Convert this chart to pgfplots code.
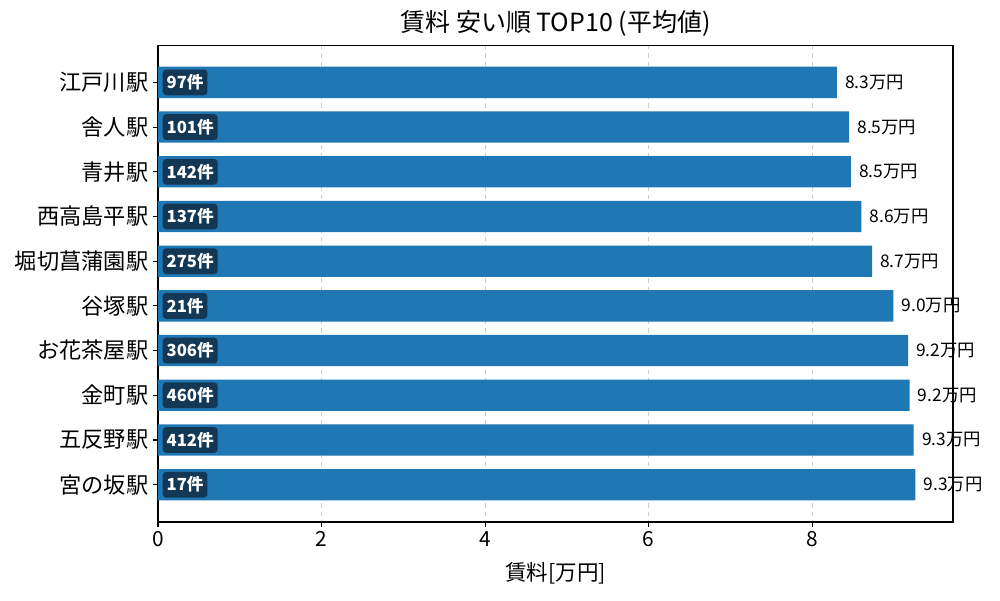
\documentclass[border=0pt]{standalone}
\usepackage{fontspec}
\setmainfont{Noto Sans CJK JP}
\usepackage{pgfplots}
\usepackage{pgfplotstable}
\pgfplotsset{compat=1.18}
\definecolor{barblue}{RGB}{31,119,180}
\definecolor{badge}{RGB}{18,56,86}
\definecolor{gridgray}{RGB}{204,204,204}
\pgfplotstableread[col sep=comma]{
y,val,lab,cnt
0,8.30,8.3万円,97件
1,8.45,8.5万円,101件
2,8.47,8.5万円,142件
3,8.60,8.6万円,137件
4,8.73,8.7万円,275件
5,8.99,9.0万円,21件
6,9.17,9.2万円,306件
7,9.19,9.2万円,460件
8,9.24,9.3万円,412件
9,9.26,9.3万円,17件
}\datatable
\begin{document}
\begin{tikzpicture}
\begin{axis}[
  at={(0,0)}, anchor=south west,
  scale only axis,
  width=572.4pt, height=343.4pt,
  xmin=0, xmax=9.72,
  ymin=-0.835, ymax=9.835,
  y dir=reverse,
  ytick={0,...,9},
  yticklabels={江戸川駅,舎人駅,青井駅,西高島平駅,堀切菖蒲園駅,谷塚駅,お花茶屋駅,金町駅,五反野駅,宮の坂駅},
  xtick={0,2,4,6,8},
  tick align=outside,
  tick pos=left,
  major tick length=3.5pt,
  every tick/.style={black, line width=0.8pt},
  axis line style={black, line width=0.8pt},
  /pgf/number format/assume math mode=true,
  xticklabel style={font=\fontsize{15}{18}\selectfont},
  yticklabel style={font=\fontsize{16}{19}\selectfont},
  xmajorgrids,
  major grid style={gridgray, dashed, line width=0.8pt},
  axis on top=false,
  title={賃料 安い順 TOP10 (平均値)},
  title style={font=\fontsize{18}{21}\selectfont, yshift=-3pt},
  xlabel={賃料[万円]},
  xlabel style={font=\fontsize{15.5}{18}\selectfont, yshift=-4pt},
  clip=false,
]
\addplot[xbar, bar width=0.7, fill=barblue, draw=none,
  nodes near coords, point meta=explicit symbolic,
  nodes near coords style={anchor=west, inner sep=0pt, xshift=5.8pt, font=\fontsize{12.5}{14}\selectfont, text=black}]
  table[x=val, y=y, meta=lab] {\datatable};
\addplot[draw=none, mark=none,
  nodes near coords, point meta=explicit symbolic,
  nodes near coords style={anchor=west, xshift=3.2pt, fill=badge, text=white, rounded corners=2.5pt,
    inner xsep=2.8pt, inner ysep=3.6pt, font=\fontsize{12}{14}\selectfont\bfseries}]
  table[x expr=0, y=y, meta=cnt] {\datatable};
\end{axis}
\path[use as bounding box] (-113.76pt,-56.16pt) rectangle (606.24pt,375.84pt);
\end{tikzpicture}
\end{document}
